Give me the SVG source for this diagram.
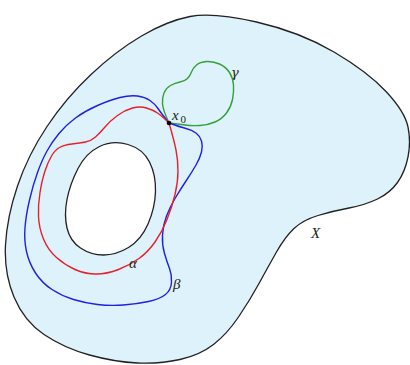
<svg xmlns="http://www.w3.org/2000/svg" width="410" height="365" viewBox="0 0 410 365">
<style>
.curve{fill:none;stroke-width:1.4;stroke-linejoin:round;stroke-linecap:round}
.lbl{font-family:"Liberation Serif","DejaVu Serif",serif;font-style:italic;font-size:15px;fill:#222}
.greek{font-family:"DejaVu Serif","Liberation Serif",serif;font-style:italic;font-size:13px;fill:#222}
.sub{font-family:"Liberation Serif","DejaVu Serif",serif;font-size:11px;fill:#222}
</style>
<rect width="410" height="365" fill="#ffffff"/>
<g id="space-X">
<path d="M256.5,22 Q300,32 334,52 Q368,72 386.5,92 Q405,112 408,127 Q411,142 408,157 Q405,172 397.5,182.5 Q390,193 377.5,199 Q365,205 349,208 Q333,211 318,215.5 Q303,220 294,228.5 Q285,237 276.5,252 Q268,267 259,283.5 Q250,300 238.5,317 Q227,334 213.5,344.5 Q200,355 180,359.5 Q160,364 137.5,363 Q115,362 89.5,355 Q64,348 44,334.5 Q24,321 14,297 Q4,273 5.5,245 Q7,217 17.5,186 Q28,155 47,126.5 Q66,98 91,74.5 Q116,51 141.5,36 Q167,21 190,16.5 Q213,12 256.5,22 Z" fill="#ddf2fa" stroke="#222" stroke-width="1.3"/>
<path d="M128,144.5 Q143,149 149.5,162 Q156,175 155.5,191.5 Q155,208 148,224 Q141,240 128.5,247.5 Q116,255 103.5,255 Q91,255 80.5,248 Q70,241 67,228 Q64,215 67,199.5 Q70,184 78,168.5 Q86,153 99.5,146.5 Q113,140 128,144.5 Z" fill="#ffffff" stroke="#222" stroke-width="1.3"/>
<text class="lbl" x="311" y="238">X</text>
</g>
<g id="connectors">
<path id="gamma" class="curve" stroke="#35a035" d="M169,123 Q163,110 162.5,104 Q162,98 164,93 Q166,88 170.5,85.5 Q175,83 180,82 Q185,81 187.5,78.5 Q190,76 191.5,72 Q193,68 196.5,65 Q200,62 206.5,61.5 Q213,61 219.5,64 Q226,67 229.5,72.5 Q233,78 233.5,85 Q234,92 232.5,99.5 Q231,107 226.5,113 Q222,119 215,122 Q208,125 200,125.5 Q192,126 185,125 Q178,124 169,123"/>
<path id="beta" class="curve" stroke="#2020e0" d="M169,123 Q180,127 186,128.5 Q192,130 196,133 Q200,136 201.5,141 Q203,146 201.5,152 Q200,158 196,165 Q192,172 186,181 Q180,190 175,198.5 Q170,207 166.5,216 Q163,225 162.5,235 Q162,245 164.5,253.5 Q167,262 169.5,268.5 Q172,275 171.5,282.5 Q171,290 165.5,294.5 Q160,299 148.5,301.5 Q137,304 123.5,305 Q110,306 97.5,304.5 Q85,303 73.5,299.5 Q62,296 52,289.5 Q42,283 35.5,273 Q29,263 26.5,251.5 Q24,240 25,227.5 Q26,215 29.5,200 Q33,185 37.5,172.5 Q42,160 47,151 Q52,142 59,133.5 Q66,125 75.5,118 Q85,111 97.5,105.5 Q110,100 120,97.5 Q130,95 137.5,96 Q145,97 150,100.5 Q155,104 158,108.5 Q161,113 169,123"/>
<path id="alpha" class="curve" stroke="#e8202a" d="M169,123 Q174,140 176,150 Q178,160 178,171 Q178,182 175,194.5 Q172,207 167,219.5 Q162,232 155,242 Q148,252 139,258.5 Q130,265 118.5,269.5 Q107,274 96,274 Q85,274 75,269.5 Q65,265 56.5,257.5 Q48,250 43.5,239 Q39,228 38.5,216.5 Q38,205 40,192.5 Q42,180 45,171 Q48,162 51.5,156 Q55,150 59.5,147.5 Q64,145 72,144 Q80,143 85.5,142 Q91,141 95.5,137 Q100,133 105,127 Q110,121 117.5,115.5 Q125,110 132.5,108 Q140,106 146.5,108 Q153,110 157.5,113 Q162,116 169,123"/>
</g>
<g id="labels">
<text class="lbl" x="129" y="268">α</text>
<text class="lbl" x="173" y="289">β</text>
<text class="greek" x="231" y="77">γ</text>
</g>
<g id="x0">
<circle cx="169" cy="123" r="2.3" fill="#000"/>
<text class="lbl" x="172" y="120" font-size="16">x</text>
<text class="sub" x="180.5" y="123">0</text>
</g>
</svg>
